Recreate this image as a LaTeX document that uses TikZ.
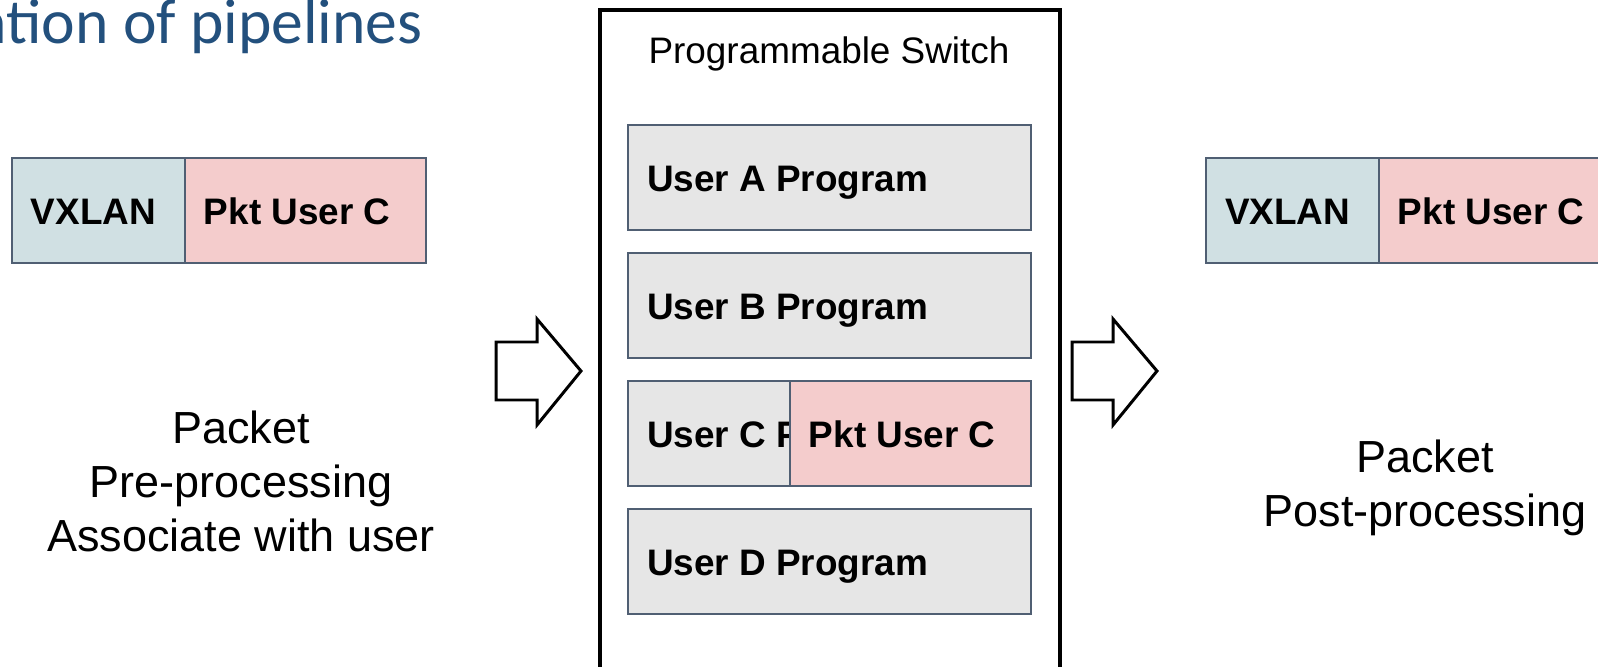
\documentclass[tikz,border=0pt]{standalone}
\usepackage{fontspec}
\setmainfont{Liberation Sans}
\newfontfamily\calibrifont{Carlito}
\usetikzlibrary{positioning}
\definecolor{boxEdge}{RGB}{80,95,115}
\definecolor{vxFill}{RGB}{208,224,227}
\definecolor{pktFill}{RGB}{244,204,204}
\definecolor{progFill}{RGB}{230,230,230}
\definecolor{titleBlue}{RGB}{35,80,125}
\tikzstyle{hdrNode} = [rectangle, draw=boxEdge, line width=0.85pt, outer sep=0pt, minimum height=2.1cm, inner xsep=0.38cm, align=flush left, text height=0.58cm, text depth=0pt, font=\fontsize{21}{25}\selectfont\bfseries]
\tikzstyle{vxNode} = [hdrNode, fill=vxFill, text width=2.70cm]
\tikzstyle{pktNode} = [hdrNode, fill=pktFill, text width=4.06cm]
\tikzstyle{progNode} = [hdrNode, fill=progFill, text width=7.30cm]
\tikzstyle{switchBox} = [rectangle, draw=black, line width=2.2pt, outer sep=0pt]
\tikzstyle{plainText} = [align=center, font=\fontsize{25.6}{30.7}\selectfont]
\tikzstyle{blockArrow} = [draw=black, line width=1.7pt, fill=white, miter limit=20]

\begin{document}
\begin{tikzpicture}[x=0.02cm, y=-0.02cm, node distance=0.46cm]
    \useasboundingbox (0,0) rectangle (1598,666);
    \clip (0,0) rectangle (1598,666);

    \node (title) [anchor=base east, inner sep=0pt, text=titleBlue, font=\calibrifont\fontsize{36.2}{41}\selectfont] at (423,43) {ation of pipelines};

    % incoming packet
    \node (vxIn) [vxNode, anchor=north west] at (12,158) {VXLAN};
    \node (pktIn) [pktNode, right=0cm of vxIn] {Pkt User C};
    % base anchor sits on the last line
    \node (preText) [plainText, anchor=base] at (241,551) {Packet\\Pre-processing\\Associate with user};

    % the switch and its user programs
    \node (switch) [switchBox, minimum width=9.2cm, minimum height=13.8cm, anchor=north west] at (600,10) {};
    \node (swTitle) [anchor=base, font=\fontsize{21}{25}\selectfont] at (829,63) {Programmable Switch};
    \node (progA) [progNode, anchor=north west] at (628,125) {User A Program};
    \node (progB) [progNode, below=of progA] {User B Program};
    \node (progC) [progNode, below=of progB] {User C Program};
    \node (progD) [progNode, below=of progC] {User D Program};
    \node (pktSw) [pktNode, anchor=east] at (progC.east) {Pkt User C};

    % outgoing packet
    \node (vxOut) [vxNode, anchor=north west] at (1206,158) {VXLAN};
    \node (pktOut) [pktNode, right=0cm of vxOut] {Pkt User C};
    \node (postText) [plainText, anchor=base] at (1425,526) {Packet\\Post-processing};

    % block arrows in and out of the switch
    \coordinate (inArrow) at (496,371);
    \coordinate (outArrow) at (1072,371);
    \draw [blockArrow] (inArrow) ++(0,-29) -- ++(41,0) -- ++(0,-23) -- ++(44,52) -- ++(-44,54) -- ++(0,-25) -- ++(-41,0) -- cycle;
    \draw [blockArrow] (outArrow) ++(0,-29) -- ++(41,0) -- ++(0,-23) -- ++(44,52) -- ++(-44,54) -- ++(0,-25) -- ++(-41,0) -- cycle;
\end{tikzpicture}
\end{document}
